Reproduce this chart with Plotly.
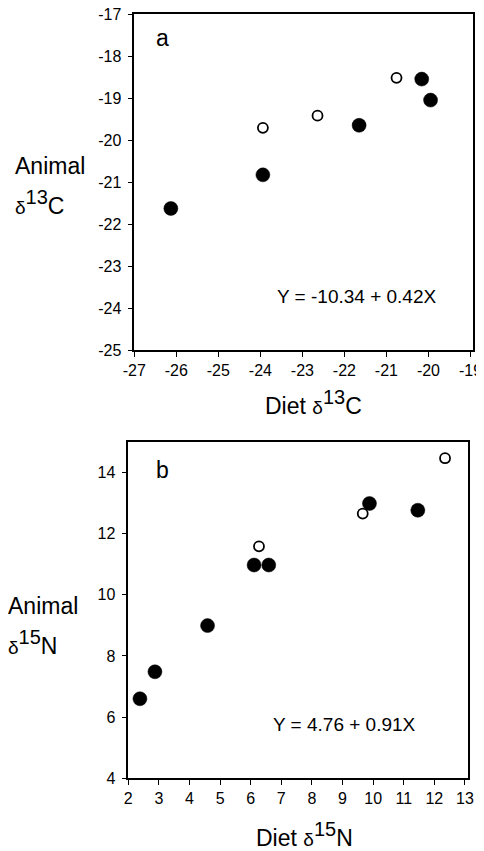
import plotly.graph_objects as go

# The page body has an 8px default margin; the figure is offset by it
OFF = 8
W, H = 484 - OFF, 851 - OFF

# Panel a: carbon
c_filled_x = [-26.13, -23.94, -21.65, -20.16, -19.95]
c_filled_y = [-21.63, -20.83, -19.65, -18.55, -19.05]
c_open_x = [-23.94, -22.64, -20.76]
c_open_y = [-19.71, -19.42, -18.52]
c_xticks = [-27, -26, -25, -24, -23, -22, -21, -20, -19]
c_yticks = [-25, -24, -23, -22, -21, -20, -19, -18, -17]

# Panel b: nitrogen
n_filled_x = [2.38, 2.87, 4.59, 6.11, 6.59, 9.88, 11.46]
n_filled_y = [6.60, 7.48, 8.99, 10.97, 10.97, 12.98, 12.76]
n_open_x = [6.27, 9.66, 12.35]
n_open_y = [11.58, 12.65, 14.46]
n_xticks = [2, 3, 4, 5, 6, 7, 8, 9, 10, 11, 12, 13]
n_yticks = [4, 6, 8, 10, 12, 14]

FONT = "Liberation Sans, Arial, sans-serif"

fig = go.Figure()

filled = dict(size=14, color="black", line=dict(width=0.5, color="black"))
opened = dict(size=10, color="white", line=dict(width=1.8, color="black"))

fig.add_trace(go.Scatter(x=c_filled_x, y=c_filled_y, mode="markers", marker=filled,
                         xaxis="x", yaxis="y", showlegend=False))
fig.add_trace(go.Scatter(x=c_open_x, y=c_open_y, mode="markers", marker=opened,
                         xaxis="x", yaxis="y", showlegend=False))
fig.add_trace(go.Scatter(x=n_filled_x, y=n_filled_y, mode="markers", marker=filled,
                         xaxis="x2", yaxis="y2", showlegend=False))
fig.add_trace(go.Scatter(x=n_open_x, y=n_open_y, mode="markers", marker=opened,
                         xaxis="x2", yaxis="y2", showlegend=False))

def px(x):
    return (x - OFF) / W

def py(y):
    return 1 - (y - OFF) / H

axis_common = dict(showline=True, mirror=True, linecolor="black", linewidth=1.5,
                   ticks="outside", ticklen=5, tickwidth=1.3, tickcolor="black",
                   showgrid=False, zeroline=False, automargin=False,
                   ticklabeloverflow="allow",
                   tickfont=dict(family=FONT, size=16, color="black"))

fig.update_layout(
    template="none",
    width=W, height=H,
    margin=dict(l=0, r=0, t=0, b=0, pad=0),
    paper_bgcolor="white", plot_bgcolor="white",
    xaxis=dict(domain=[px(134.3), px(473)], range=[-27, -18.94], anchor="y",
               tickmode="array", tickvals=c_xticks, ticktext=[str(v) for v in c_xticks],
               **axis_common),
    yaxis=dict(domain=[py(350), py(14)], range=[-25, -17], anchor="x",
               tickmode="array", tickvals=c_yticks, ticktext=[str(v) for v in c_yticks],
               ticklabelstandoff=3, **axis_common),
    xaxis2=dict(domain=[px(128.3), px(467.7)], range=[2, 13.09], anchor="y2",
                tickmode="array", tickvals=n_xticks, ticktext=[str(v) for v in n_xticks],
                **axis_common),
    yaxis2=dict(domain=[py(778.3), py(441.7)], range=[4, 15], anchor="x2",
                tickmode="array", tickvals=n_yticks, ticktext=[str(v) for v in n_yticks],
                ticklabelstandoff=3, **axis_common),
)

def ann(text, x, y, size, xanchor="center", yanchor="middle"):
    fig.add_annotation(text=text, x=px(x), y=py(y), xref="paper", yref="paper",
                       xanchor=xanchor, yanchor=yanchor, showarrow=False,
                       font=dict(family=FONT, size=size, color="black"))

def delta(iso, elem):
    return ('<span style="font-size:19px">δ</span>'
            '<sup><span style="font-size:20px">' + iso + '</span></sup>' + elem)

# Panel a texts
ann("a", 162, 38, 23)
ann("Y = -10.34 + 0.42X", 356, 296, 19)
ann("Animal", 13, 166, 23, xanchor="left")
ann(delta("13", "C"), 13, 202, 23, xanchor="left")
ann("Diet " + delta("13", "C"), 313, 402, 23)

# Panel b texts
ann("b", 162, 470, 23)
ann("Y = 4.76 + 0.91X", 344, 724, 19)
ann("Animal", 6, 606, 23, xanchor="left")
ann(delta("15", "N"), 6, 642, 23, xanchor="left")
ann("Diet " + delta("15", "N"), 304, 834, 23)

fig.write_html("out.html")
